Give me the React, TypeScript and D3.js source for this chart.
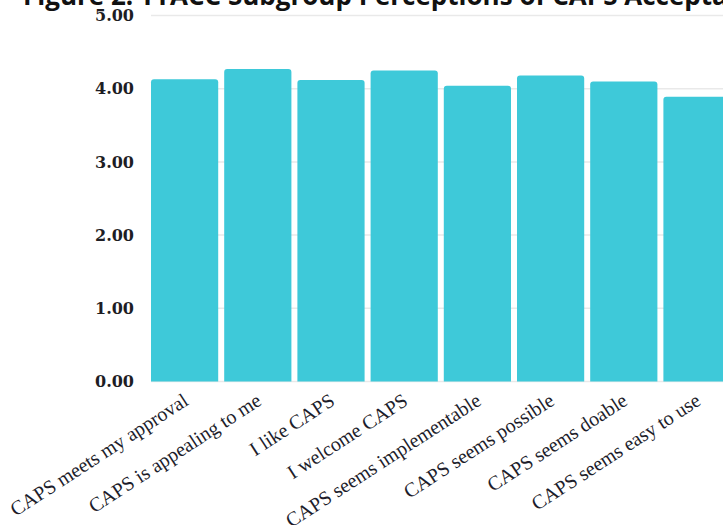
import React from "react";
import * as d3 from "d3";

const categories = [
  "CAPS meets my approval",
  "CAPS is appealing to me",
  "I like CAPS",
  "I welcome CAPS",
  "CAPS seems implementable",
  "CAPS seems possible",
  "CAPS seems doable",
  "CAPS seems easy to use",
];
const values = [4.13, 4.27, 4.12, 4.25, 4.04, 4.18, 4.1, 3.89];
const yTicks = [0, 1, 2, 3, 4, 5];
const title = "Figure 2. TTACC Subgroup Perceptions of CAPS Acceptability";

const W = 723;
const H = 525;
const left = 151;
const step = 73.2;
const gap = 6;

export default function App() {
  const x = d3
    .scaleBand<string>()
    .domain(categories)
    .range([left, left + categories.length * step - gap])
    .paddingInner(gap / step)
    .paddingOuter(0);
  const y = d3.scaleLinear().domain([0, 5]).range([381.5, 15.5]);
  const bw = x.bandwidth();
  const r = 3;

  const barPath = (c: string, v: number) => {
    const x0 = x(c)!;
    const x1 = x0 + bw;
    const y0 = y(0);
    const yt = y(v);
    const p = d3.path();
    p.moveTo(x0, y0);
    p.lineTo(x0, yt + r);
    p.quadraticCurveTo(x0, yt, x0 + r, yt);
    p.lineTo(x1 - r, yt);
    p.quadraticCurveTo(x1, yt, x1, yt + r);
    p.lineTo(x1, y0);
    p.closePath();
    return p.toString();
  };

  return (
    <svg
      width={W}
      height={H}
      style={{ position: "absolute", left: 0, top: 0, background: "#fff" }}
    >
      <text
        x={23}
        y={5}
        fontFamily="'Open Sans', sans-serif"
        fontWeight="bold"
        fontSize={26}
        fill="#111"
      >
        {title}
      </text>
      {yTicks.map((t) => (
        <g key={t}>
          <line
            x1={left}
            x2={W + 50}
            y1={y(t)}
            y2={y(t)}
            stroke="#e9e9e9"
            strokeWidth={1.5}
          />
          <text
            x={134}
            y={y(t)}
            dy="0.36em"
            textAnchor="end"
            fontFamily="'DejaVu Serif', serif"
            fontWeight="bold"
            fontSize={16}
            fill="#1d1d24"
          >
            {d3.format(".2f")(t)}
          </text>
        </g>
      ))}
      {categories.map((c, i) => (
        <path key={c} d={barPath(c, values[i])} fill="#3ec9d9" />
      ))}
      {categories.map((c) => {
        const cx = x(c)! + bw / 2 + 5;
        const cy = 404;
        return (
          <text
            key={c}
            x={cx}
            y={cy}
            textAnchor="end"
            transform={`rotate(-33, ${cx}, ${cy})`}
            fontFamily="'Liberation Serif', serif"
            fontSize={20}
            fill="#1d1d2b"
          >
            {c}
          </text>
        );
      })}
    </svg>
  );
}
